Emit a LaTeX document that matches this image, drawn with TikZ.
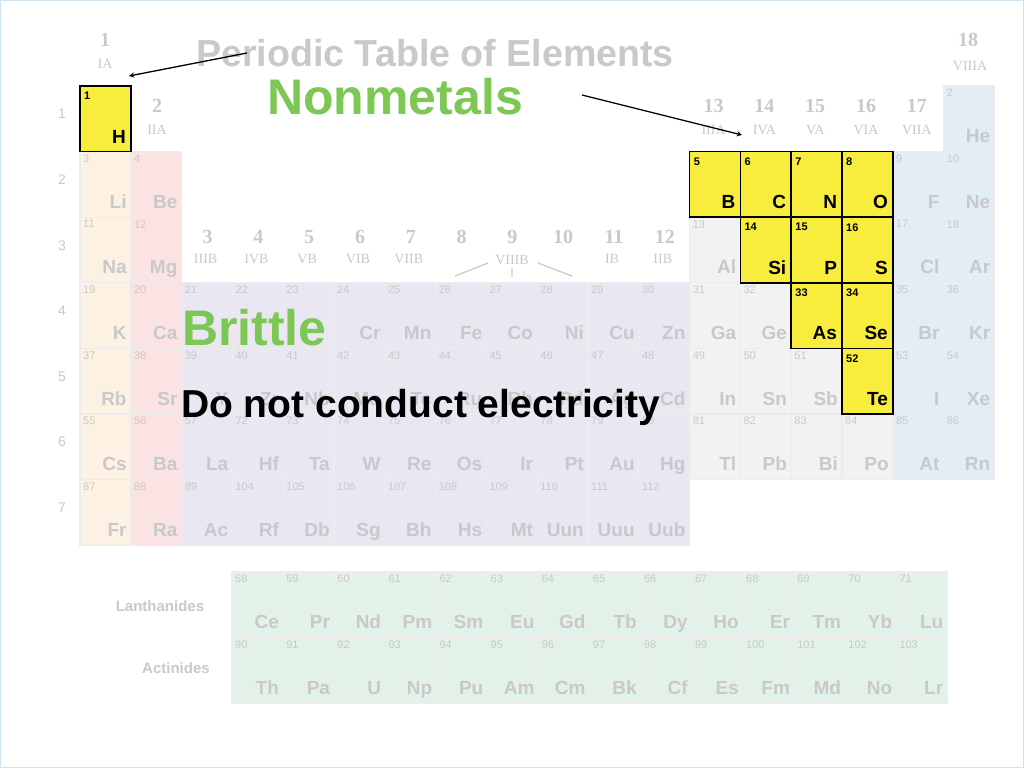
\documentclass[tikz,border=0pt]{standalone}
\usepackage{fontspec}
\setmainfont{Liberation Sans}
\newfontfamily\serifl{Liberation Serif}
\definecolor{cA}{HTML}{FDF1E4}
\definecolor{cB}{HTML}{FBE3E3}
\definecolor{cT}{HTML}{EAE6F2}
\definecolor{cP}{HTML}{F2F2F2}
\definecolor{cH}{HTML}{E2EDF5}
\definecolor{cL}{HTML}{E3F2E8}
\definecolor{ft}{HTML}{C9C9C9}
\definecolor{gr}{HTML}{7DC855}
\definecolor{yl}{HTML}{F8EC3C}
\definecolor{bd}{HTML}{D0E2EE}
\tikzset{
 cellbox/.style={draw=white!85!gray,line width=1.2pt,inner sep=0,minimum width=50.8pt,minimum height=65.6pt},
 numtxt/.style={anchor=north west,inner sep=0,font=\fontsize{11}{12}\selectfont,text=ft},
 symtxt/.style={anchor=base east,inner sep=0,font=\bfseries\fontsize{19}{20}\selectfont,text=ft},
 lab/.style={inner sep=0,font=\serifl\bfseries\fontsize{20}{21}\selectfont,text=ft},
 sublab/.style={inner sep=0,font=\serifl\fontsize{14}{15}\selectfont,text=ft},
 hbox/.style={draw=black,line width=1.5pt,fill=yl,inner sep=0,minimum width=50.8pt,minimum height=65.6pt},
 hnum/.style={anchor=north west,inner sep=0,font=\bfseries\fontsize{11}{12}\selectfont},
 hsym/.style={anchor=base east,inner sep=0,font=\bfseries\fontsize{19}{20}\selectfont},
 arr/.style={-stealth,line width=1.3pt}
}
\newcommand\pcellxy[7]{% x y w h num sym fill
 \node[cellbox,fill=#7,minimum width=#3pt,minimum height=#4pt] (e#5) at (#1+#3/2,#2+#4/2) {};
 \node[numtxt] at (#1+3,#2+3){#5};
 \node[symtxt] at (#1+#3-4,#2+#4-9){#6};
}
\newcommand\pcell[4]{%
 \pgfmathsetmacro\xa{80+(#1-1)*50.8}%
 \pgfmathsetmacro\ya{86+(#2-1)*65.6}%
 \ifnum#1=1 \def\cf{cA}\else\ifnum#1=2 \def\cf{cB}\else\ifnum#1<13 \def\cf{cT}\else\ifnum#1<17 \def\cf{cP}\else\def\cf{cH}\fi\fi\fi\fi
 \pcellxy{\xa}{\ya}{50.8}{65.6}{#3}{#4}{\cf}%
}
\newcommand\hcell[4]{%
 \pgfmathsetmacro\xa{80+(#1-1)*50.8}%
 \pgfmathsetmacro\ya{86+(#2-1)*65.6}%
 \node[hbox] (h#3) at (\xa+25.4,\ya+32.8) {};
 \node[hnum] at (\xa+4,\ya+6){#3};
 \node[hsym] at (\xa+46,\ya+57){#4};
}
\begin{document}
\begin{tikzpicture}[x=1pt,y=-1pt]
\fill[white] (0,0) rectangle (1024,768);
\draw[bd,line width=1pt] (0.5,0.5) rectangle (1023.5,767.5);
\node[inner sep=0,font=\bfseries\fontsize{37.6}{38}\selectfont,text=ft] (title) at (435,53) {Periodic Table of Elements};
\foreach \r in {1,...,7}{\node[sublab,font=\fontsize{14}{15}\selectfont] (r\r) at (62,{86+(\r-1)*65.6+28}) {\r};}
\node[lab] (g1) at (105,40){1}; \node[sublab] (g1b) at (105,64){IA};
\node[lab] (g18) at (968,40){18}; \node[sublab] (g18b) at (970,66){VIIIA};
\node[lab] (g2) at (157,106){2}; \node[sublab] (g2b) at (157,130){IIA};
\foreach \c/\a/\b in {13/13/IIIA,14/14/IVA,15/15/VA,16/16/VIA,17/17/VIIA}{
 \node[lab] (g\a) at ({80+(\c-1)*50.8+24},106){\a};
 \node[sublab] (g\a b) at ({80+(\c-1)*50.8+24},130){\b};}
\foreach \c/\a/\b in {3/3/IIIB,4/4/IVB,5/5/VB,6/6/VIB,7/7/VIIB,11/11/IB,12/12/IIB}{
 \node[lab] (g\a) at ({80+(\c-1)*50.8+26},237){\a};
 \node[sublab] (g\a b) at ({80+(\c-1)*50.8+24},259){\b};}
\foreach \c/\a in {8/8,9/9,10/10}{\node[lab] (g\a) at ({80+(\c-1)*50.8+26},237){\a};}
\node[sublab] (g9b) at (512,260){VIIIB};
\draw[ft,line width=1.2pt] (455,276)--(488,263) (538,263)--(572,276) (512,268)--(512,277);
\pcell{18}{1}{2}{He}
\foreach \c/\n/\s in {1/3/Li,2/4/Be,17/9/F,18/10/Ne}{\pcell{\c}{2}{\n}{\s}}
\foreach \c/\n/\s in {1/11/Na,2/12/Mg,13/13/Al,17/17/Cl,18/18/Ar}{\pcell{\c}{3}{\n}{\s}}
\foreach \c/\n/\s in {1/19/K,2/20/Ca,3/21/{},4/22/{},5/23/{},6/24/Cr,7/25/Mn,8/26/Fe,9/27/Co,10/28/Ni,11/29/Cu,12/30/Zn,13/31/Ga,14/32/Ge,17/35/Br,18/36/Kr}{\pcell{\c}{4}{\n}{\s}}
\foreach \c/\n/\s in {1/37/Rb,2/38/Sr,3/39/Y,4/40/Zr,5/41/Nb,6/42/Mo,7/43/Tc,8/44/Ru,9/45/Rh,10/46/Pd,11/47/Ag,12/48/Cd,13/49/In,14/50/Sn,15/51/Sb,17/53/I,18/54/Xe}{\pcell{\c}{5}{\n}{\s}}
\foreach \c/\n/\s in {1/55/Cs,2/56/Ba,3/57/La,4/72/Hf,5/73/Ta,6/74/W,7/75/Re,8/76/Os,9/77/Ir,10/78/Pt,11/79/Au,12/80/Hg,13/81/Tl,14/82/Pb,15/83/Bi,16/84/Po,17/85/At,18/86/Rn}{\pcell{\c}{6}{\n}{\s}}
\foreach \c/\n/\s in {1/87/Fr,2/88/Ra,3/89/Ac,4/104/Rf,5/105/Db,6/106/Sg,7/107/Bh,8/108/Hs,9/109/Mt,10/110/Uun,11/111/Uuu,12/112/Uub}{\pcell{\c}{7}{\n}{\s}}
\node[inner sep=0,font=\bfseries\fontsize{15}{16}\selectfont,text=ft] (lan) at (160,606){Lanthanides};
\node[inner sep=0,font=\bfseries\fontsize{15}{16}\selectfont,text=ft] (act) at (176,668){Actinides};
\foreach \i/\n/\s in {0/58/Ce,1/59/Pr,2/60/Nd,3/61/Pm,4/62/Sm,5/63/Eu,6/64/Gd,7/65/Tb,8/66/Dy,9/67/Ho,10/68/Er,11/69/Tm,12/70/Yb,13/71/Lu}{
 \pgfmathsetmacro\xa{232+\i*51.1}\pcellxy{\xa}{572}{51.1}{65}{\n}{\s}{cL}}
\foreach \i/\n/\s in {0/90/Th,1/91/Pa,2/92/U,3/93/Np,4/94/Pu,5/95/Am,6/96/Cm,7/97/Bk,8/98/Cf,9/99/Es,10/100/Fm,11/101/Md,12/102/No,13/103/Lr}{
 \pgfmathsetmacro\xa{232+\i*51.1}\pcellxy{\xa}{638}{51.1}{65}{\n}{\s}{cL}}
\hcell{1}{1}{1}{H}
\foreach \c/\n/\s in {13/5/B,14/6/C,15/7/N,16/8/O}{\hcell{\c}{2}{\n}{\s}}
\foreach \c/\n/\s in {14/14/Si,15/15/P,16/16/S}{\hcell{\c}{3}{\n}{\s}}
\foreach \c/\n/\s in {15/33/As,16/34/Se}{\hcell{\c}{4}{\n}{\s}}
\hcell{16}{5}{52}{Te}
\node[inner sep=0,font=\bfseries\fontsize{50}{52}\selectfont,text=gr,anchor=west] (nm) at (267,97){Nonmetals};
\node[inner sep=0,font=\bfseries\fontsize{50}{52}\selectfont,text=gr,anchor=west] (br) at (182,328){Brittle};
\node[inner sep=0,font=\bfseries\fontsize{39}{40}\selectfont,anchor=west] (dn) at (181,407){Do not conduct electricity};
\coordinate (a1s) at (247,53); \coordinate (a1e) at (129,76);
\coordinate (a2s) at (582,95); \coordinate (a2e) at (742,135);
\draw[arr] (a1s)--(a1e);
\draw[arr] (a2s)--(a2e);
\end{tikzpicture}
\end{document}
